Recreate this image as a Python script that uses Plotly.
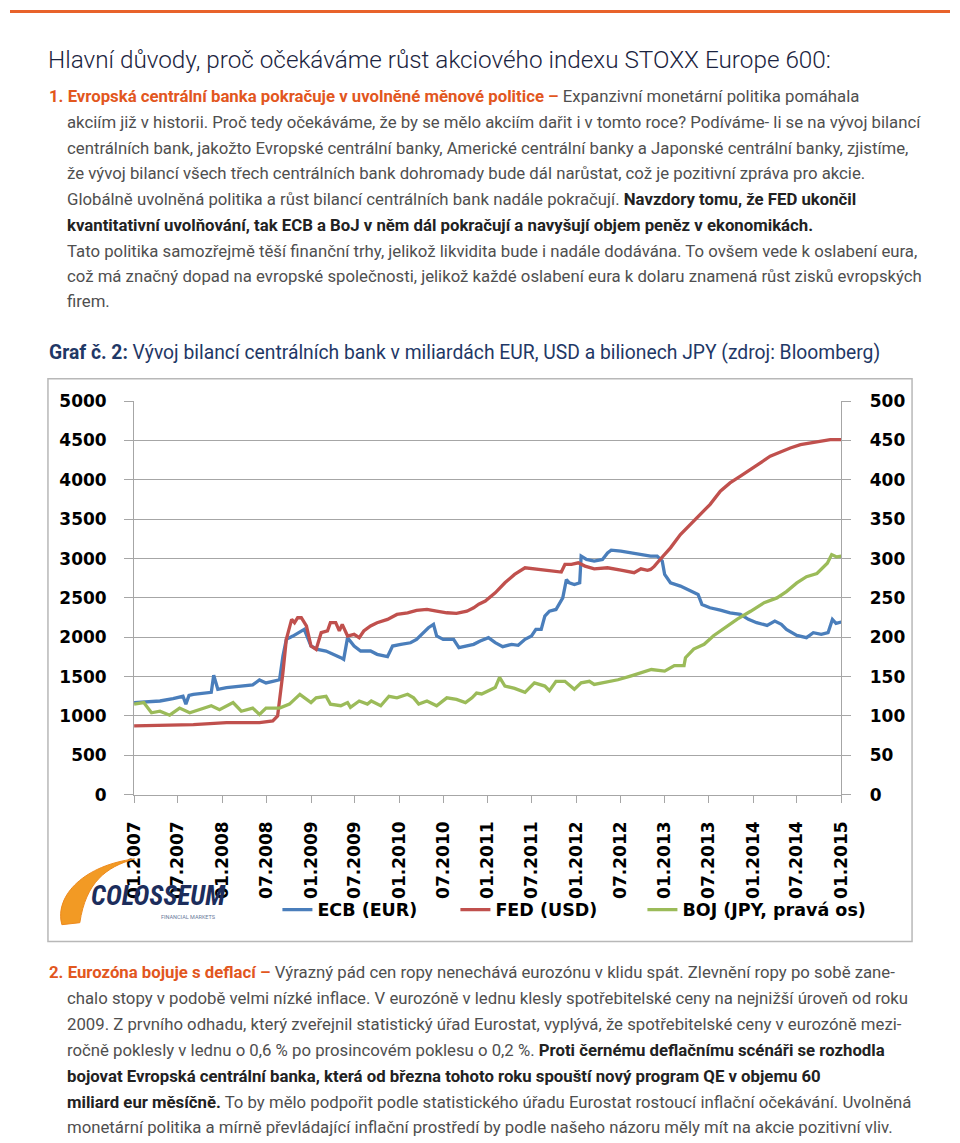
import plotly.graph_objects as go

W, H = 960, 1143

# ---------------- data ----------------
ecb_dates = ["2007-01-01","2007-02-24","2007-04-18","2007-06-11","2007-07-22","2007-08-03","2007-08-16","2007-09-03",
             "2007-10-27","2007-11-16","2007-11-26","2007-12-13","2008-01-18","2008-03-11","2008-05-05","2008-06-02",
             "2008-06-29","2008-07-27","2008-08-24","2008-09-07","2008-09-21","2008-10-18","2008-11-28","2008-12-04",
             "2009-01-01","2009-01-28","2009-03-04","2009-04-07","2009-05-04","2009-05-16","2009-06-01","2009-06-28",
             "2009-07-25","2009-09-04","2009-10-01","2009-11-13","2009-12-04","2010-01-07","2010-02-16","2010-03-13",
             "2010-04-10","2010-05-01","2010-05-22","2010-06-04","2010-07-01","2010-08-13","2010-09-04","2010-10-07",
             "2010-11-04","2010-12-01","2011-01-04","2011-02-01","2011-03-04","2011-04-10","2011-05-07","2011-06-04",
             "2011-07-01","2011-07-19","2011-08-10","2011-08-25","2011-09-13","2011-10-10","2011-11-07","2011-11-22",
             "2011-12-04","2011-12-25","2012-01-16","2012-01-22","2012-02-13","2012-03-16","2012-04-19","2012-05-10",
             "2012-05-25","2012-07-04","2012-08-16","2012-09-25","2012-11-04","2012-12-01","2012-12-22","2013-01-01",
             "2013-01-25","2013-03-07","2013-04-16","2013-05-19","2013-06-04","2013-07-07","2013-08-19","2013-09-28",
             "2013-11-10","2013-12-13","2014-01-16","2014-02-28","2014-04-01","2014-04-28","2014-05-19","2014-07-01",
             "2014-08-10","2014-09-07","2014-10-10","2014-11-07","2014-11-25","2014-12-10","2015-01-01"]
ecb_values = [1170,1175,1190,1220,1250,1150,1260,1275,
              1295,1300,1516,1339,1360,1380,1395,1457,
              1420,1440,1460,1762,1973,2015,2090,2100,
              1888,1846,1825,1783,1741,1720,1995,1888,
              1825,1825,1783,1753,1888,1910,1930,1973,
              2058,2121,2164,2016,1973,1973,1867,1888,
              1910,1952,1995,1931,1880,1910,1897,1973,
              2016,2100,2100,2269,2332,2353,2500,2734,
              2692,2670,2692,3030,2988,2967,2988,3072,
              3106,3093,3072,3051,3030,3030,2967,2798,
              2692,2650,2586,2544,2417,2375,2345,2311,
              2290,2227,2185,2151,2206,2164,2100,2024,
              1995,2058,2037,2058,2227,2177,2194]

fed_dates = ["2007-01-01","2007-04-18","2007-09-03","2008-01-18","2008-06-02","2008-07-27","2008-08-16","2008-09-07",
             "2008-09-21","2008-10-13","2008-10-25","2008-11-07","2008-11-22","2008-12-13","2009-01-01","2009-01-22",
             "2009-02-12","2009-03-10","2009-03-22","2009-04-13","2009-04-28","2009-05-10","2009-06-01","2009-06-28",
             "2009-07-19","2009-08-07","2009-09-04","2009-10-01","2009-11-13","2009-12-22","2010-02-04","2010-03-13",
             "2010-04-25","2010-06-04","2010-07-16","2010-08-25","2010-10-07","2010-11-04","2010-11-25","2010-12-22",
             "2011-02-01","2011-03-13","2011-04-22","2011-06-04","2011-07-13","2011-08-25","2011-10-04","2011-11-01",
             "2011-11-16","2011-12-13","2012-01-10","2012-02-07","2012-03-16","2012-05-10","2012-07-04","2012-08-28",
             "2012-09-25","2012-10-22","2012-11-04","2012-11-19","2012-12-13","2013-01-25","2013-03-07","2013-04-16",
             "2013-05-28","2013-07-07","2013-08-19","2013-09-28","2013-11-10","2013-12-22","2014-02-01","2014-03-13",
             "2014-04-22","2014-06-04","2014-07-16","2014-08-25","2014-10-07","2014-11-16","2015-01-01"]
fed_values = [873,880,890,916,916,937,1000,1551,
              1973,2227,2185,2248,2250,2143,1888,1846,
              2058,2080,2185,2185,2080,2164,2016,2037,
              1995,2080,2143,2185,2227,2290,2311,2341,
              2353,2332,2311,2303,2332,2374,2420,2460,
              2565,2692,2798,2883,2870,2861,2840,2828,
              2925,2925,2946,2904,2870,2883,2853,2820,
              2870,2850,2862,2900,2988,3136,3305,3432,
              3559,3686,3856,3961,4046,4130,4215,4300,
              4350,4405,4447,4468,4489,4511,4511]

boj_dates = ["2007-01-01","2007-02-10","2007-03-14","2007-04-18","2007-05-28","2007-07-08","2007-08-19","2007-09-30",
             "2007-11-16","2007-12-20","2008-02-14","2008-03-19","2008-05-05","2008-06-02","2008-06-29","2008-08-24",
             "2008-10-04","2008-11-16","2008-12-13","2009-01-01","2009-01-22","2009-03-04","2009-03-22","2009-05-04",
             "2009-06-01","2009-06-13","2009-07-19","2009-08-22","2009-09-07","2009-10-16","2009-11-19","2009-12-22",
             "2010-02-04","2010-03-01","2010-03-22","2010-04-25","2010-06-04","2010-07-16","2010-08-25","2010-10-01",
             "2010-10-28","2010-11-16","2010-12-07","2011-01-04","2011-02-01","2011-02-19","2011-03-13","2011-04-22",
             "2011-06-04","2011-07-13","2011-08-25","2011-09-13","2011-10-10","2011-11-16","2011-12-25","2012-01-22",
             "2012-02-25","2012-03-16","2012-05-10","2012-06-22","2012-08-16","2012-09-25","2012-11-07","2013-01-01",
             "2013-02-10","2013-03-22","2013-03-28","2013-05-01","2013-06-13","2013-07-22","2013-09-04","2013-10-28",
             "2013-12-22","2014-02-16","2014-04-10","2014-05-19","2014-07-01","2014-08-10","2014-09-22","2014-11-04",
             "2014-11-22","2014-12-13","2015-01-01"]
boj_values = [115,117,104,106,101,110,104,108,
              113,108,117,106,110,102,110,110,
              115,127.5,122,117,123,125,115,113,
              117,111,119,115,119,113,125,123,
              127.5,123,115,119,113,123,121,117,
              123,129,128,132,136,149,138,135,
              130,142,138,132,144,144,134,142,
              144,140,143,146,151,155,159,157,
              164,164,174,185,191,202,212,223,
              233,244,250,258,269,277,281,294,
              305,302,303]

tick_dates = ["2007-01-01","2007-07-01","2008-01-01","2008-07-01","2009-01-01","2009-07-01","2010-01-01","2010-07-01",
              "2011-01-01","2011-07-01","2012-01-01","2012-07-01","2013-01-01","2013-07-01","2014-01-01","2014-07-01",
              "2015-01-01"]
tick_labels = ["01.2007","07.2007","01.2008","07.2008","01.2009","07.2009","01.2010","07.2010",
               "01.2011","07.2011","01.2012","07.2012","01.2013","07.2013","01.2014","07.2014","01.2015"]

series_names = ["ECB (EUR)", "FED (USD)", "BOJ (JPY, pravá os)"]
series_colors = ["#4A7EBB", "#C0504D", "#9BBB59"]

# ---------------- helpers: target picture pixel -> paper fraction ----------------
# (the photographed page shows up slightly reduced and inset, so positions are pre-compensated)
SX, SY, PAD = 0.9836, 0.9862, 8.0

def X(px):
    return (px / SX - PAD) / W

def Y(py):
    return 1 - (py / SY - PAD) / H

ORANGE = "#E2571E"
GRAY = "#4F4F4F"
DARK = "#222222"
NAVY = "#1F3866"
BODY = "Roboto"
BODY_SIZE = 16.75

fig = go.Figure()
fig.add_trace(go.Scatter(x=ecb_dates, y=ecb_values, name=series_names[0], mode="lines", legendwidth=133,
                         line=dict(color=series_colors[0], width=3.3)))
fig.add_trace(go.Scatter(x=fed_dates, y=fed_values, name=series_names[1], mode="lines", legendwidth=142,
                         line=dict(color=series_colors[1], width=3.3)))
fig.add_trace(go.Scatter(x=boj_dates, y=boj_values, name=series_names[2], mode="lines", yaxis="y2",
                         line=dict(color=series_colors[2], width=3.3)))

tickfont = dict(family="DejaVu Sans", size=17, color="#000000", weight="bold")
axcol = "#A6A6A6"

fig.update_layout(
    width=W, height=H,
    margin=dict(l=0, r=0, t=0, b=0),
    paper_bgcolor="white", plot_bgcolor="white",
    xaxis=dict(domain=[X(132.5), X(843)], type="date", range=["2007-01-01", "2015-01-01"],
               tickmode="array", tickvals=tick_dates, ticktext=tick_labels, tickangle=-90,
               tickfont=tickfont, showgrid=False, zeroline=False, showline=True, linecolor=axcol,
               linewidth=1, ticks="outside", ticklen=7, tickcolor=axcol, ticklabelstandoff=12),
    yaxis=dict(domain=[Y(795.5), Y(400.5)], range=[0, 5000], dtick=500, tickformat="d",
               tickfont=tickfont, showgrid=True, gridcolor=axcol, gridwidth=1, zeroline=False,
               showline=True, linecolor=axcol, ticks="outside", ticklen=9, tickcolor=axcol,
               ticklabelstandoff=14),
    yaxis2=dict(overlaying="y", side="right", range=[0, 500], dtick=50, tickformat="d",
                tickfont=tickfont, showgrid=False, zeroline=False, showline=True, linecolor=axcol,
                ticks="outside", ticklen=9, tickcolor=axcol, anchor="x", ticklabelstandoff=15),
    showlegend=True,
    legend=dict(orientation="h", x=X(276.5), y=Y(911), xanchor="left", yanchor="middle",
                font=dict(family="DejaVu Sans", size=17.5, color="#000000", weight="bold"),
                bgcolor="rgba(0,0,0,0)", traceorder="normal", entrywidthmode="pixels"),
)

shapes = []
# top orange rule
shapes.append(dict(type="rect", xref="paper", yref="paper", x0=0, x1=1, y0=1 - 3 / H, y1=1,
                   fillcolor="#E8622A", line=dict(width=0)))
# chart frame
shapes.append(dict(type="rect", xref="paper", yref="paper", x0=X(46), x1=X(914), y0=Y(943), y1=Y(378),
                   line=dict(color="#B8B8B8", width=1.5), fillcolor="rgba(0,0,0,0)"))

# logo swoosh
def path(cmds):
    out = []
    for c in cmds:
        if isinstance(c, str):
            out.append(c)
        else:
            out.append(f"{X(c[0]):.5f},{Y(c[1]):.5f}")
    return " ".join(out)

swoosh = path(["M", (60, 926), "C", (52, 896), (84, 866), (133, 860),
               "C", (104, 868), (84, 884), (78, 924), "Z"])
shapes.append(dict(type="path", xref="paper", yref="paper", path=swoosh,
                   fillcolor="#F29A24", line=dict(color="#EE8A1E", width=1)))
fig.update_layout(shapes=shapes)

ann = []
def text(px, py, s, size=BODY_SIZE, color=GRAY, family=BODY, weight=None, xanchor="left", **kw):
    f = dict(family=family, size=size, color=color)
    if weight is not None:
        f["weight"] = weight
    ann.append(dict(xref="paper", yref="paper", x=X(px), y=Y(py), text=s, showarrow=False,
                    xanchor=xanchor, yanchor="middle", font=f, align="left", **kw))

def o(s):
    return f"<span style='color:{ORANGE}'><b>{s}</b></span>"

def b(s):
    return f"<span style='color:{DARK}'><b>{s}</b></span>"

# heading
text(44, 58, "Hlavní důvody, proč očekáváme růst akciového indexu STOXX Europe 600:", size=24.3,
     color="#1B2440", weight=300)

sec1 = [
    (45, 94, o("1. Evropská centrální banka pokračuje v uvolněné měnové politice –") + " Expanzivní monetární politika pomáhala"),
    (63, 120, "akciím již v historii. Proč tedy očekáváme, že by se mělo akciím dařit i v tomto roce? Podíváme- li se na vývoj bilancí"),
    (63, 146, "centrálních bank, jakožto Evropské centrální banky, Americké centrální banky a Japonské centrální banky, zjistíme,"),
    (63, 172, "že vývoj bilancí všech třech centrálních bank dohromady bude dál narůstat, což je pozitivní zpráva pro akcie."),
    (63, 198, "Globálně uvolněná politika a růst bilancí centrálních bank nadále pokračují. " + b("Navzdory tomu, že FED ukončil")),
    (63, 224, b("kvantitativní uvolňování, tak ECB a BoJ v něm dál pokračují a navyšují objem peněz v ekonomikách.")),
    (63, 250, "Tato politika samozřejmě těší finanční trhy, jelikož likvidita bude i nadále dodávána. To ovšem vede k oslabení eura,"),
    (63, 275, "což má značný dopad na evropské společnosti, jelikož každé oslabení eura k dolaru znamená růst zisků evropských"),
    (63, 300, "firem."),
]
for px, py, s in sec1:
    text(px, py, s)

text(45, 352, "<b>Graf č. 2:</b> Vývoj bilancí centrálních bank v miliardách EUR, USD a bilionech JPY (zdroj: Bloomberg)",
     size=19.3, color=NAVY)

sec2 = [
    (45, 974, o("2. Eurozóna bojuje s deflací –") + " Výrazný pád cen ropy nenechává eurozónu v klidu spát. Zlevnění ropy po sobě zane-"),
    (63, 1000, "chalo stopy v podobě velmi nízké inflace. V eurozóně v lednu klesly spotřebitelské ceny na nejnižší úroveň od roku"),
    (63, 1026, "2009. Z prvního odhadu, který zveřejnil statistický úřad Eurostat, vyplývá, že spotřebitelské ceny v eurozóně mezi-"),
    (63, 1052, "ročně poklesly v lednu o 0,6 % po prosincovém poklesu o 0,2 %. " + b("Proti černému deflačnímu scénáři se rozhodla")),
    (63, 1078, b("bojovat Evropská centrální banka, která od března tohoto roku spouští nový program QE v objemu 60")),
    (63, 1104, b("miliard eur měsíčně.") + " To by mělo podpořit podle statistického úřadu Eurostat rostoucí inflační očekávání. Uvolněná"),
    (63, 1129, "monetární politika a mírně převládající inflační prostředí by podle našeho názoru měly mít na akcie pozitivní vliv."),
]
for px, py, s in sec2:
    text(px, py, s)

# logo text
text(157, 897, "<b><i>COLOSSEUM</i></b>", size=27, color="#1C2D5C",
     family="Liberation Sans Narrow, Roboto Condensed, Roboto", xanchor="center")
text(187, 918, "FINANCIAL MARKETS", size=5.5, color="#6A7A9A", family="Roboto", xanchor="center")

fig.update_layout(annotations=ann)

fig.write_html("out.html", config={"displayModeBar": False},
               post_script="document.body.style.margin='0';document.body.style.overflow='hidden';")
